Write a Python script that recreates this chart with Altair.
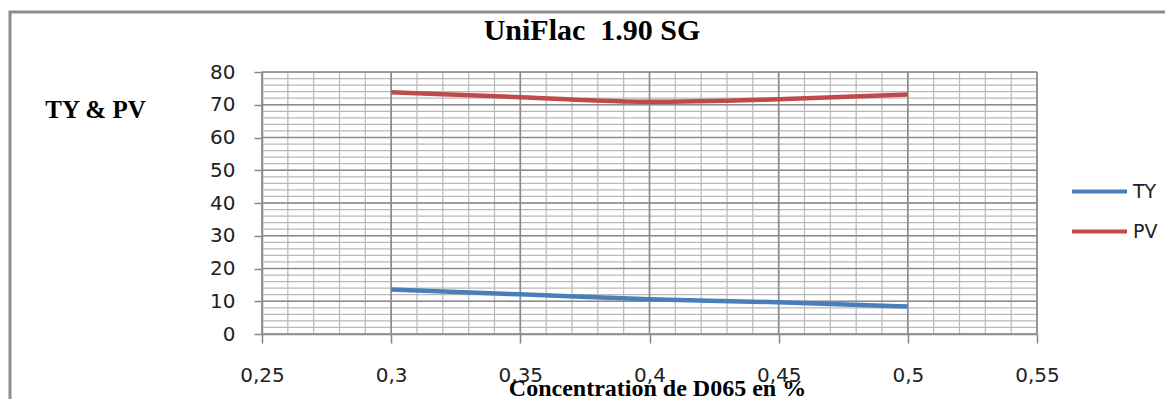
import altair as alt
import pandas as pd

# ---- data ----
conc = [0.30, 0.35, 0.40, 0.45, 0.50]
ty = [13.6, 12.1, 10.6, 9.7, 8.4]
pv = [73.8, 72.3, 70.9, 71.7, 73.1]
series_names = ["TY", "PV"]
series_colors = ["#4a7ebb", "#be4b48"]
chart_title = ["UniFlac\u00a0 1.90 SG"]

x_ticks = [0.25, 0.30, 0.35, 0.40, 0.45, 0.50, 0.55]
y_ticks = [0, 10, 20, 30, 40, 50, 60, 70, 80]
x_minor = [round(0.25 + 0.01 * i, 2) for i in range(31)]
y_minor = list(range(0, 81, 2))

W, H = 775, 262
PAD_L, PAD_T = 254, 64

df = pd.DataFrame(
    {"x": conc * 2, "value": ty + pv, "series": ["TY"] * len(conc) + ["PV"] * len(conc)}
)

xscale = alt.Scale(domain=[0.25, 0.55], nice=False, zero=False)
yscale = alt.Scale(domain=[0, 80], nice=False)

x_axis = alt.Axis(
    values=x_ticks,
    labelExpr="replace(toString(datum.value), '.', ',')",
    title="Concentration de D065 en %",
    titleFont="Liberation Serif",
    titleFontWeight="bold",
    titleFontSize=24,
    titleColor="#000000",
    titleX=395,
    titleY=61,
    titleBaseline="alphabetic",
    titleAlign="center",
    labelFont="DejaVu Sans",
    labelFontSize=20,
    labelColor="#222222",
    labelPadding=22,
    tickSize=9,
    tickColor="#868686",
    tickWidth=1.5,
    domainColor="#868686",
    domainWidth=1.6,
    grid=False,
    labelFlush=False,
    labelOverlap=False,
)
y_axis = alt.Axis(
    values=y_ticks,
    title="TY & PV",
    titleFont="Liberation Serif",
    titleFontWeight="bold",
    titleFontSize=25,
    titleColor="#000000",
    titleAngle=0,
    titleAlign="center",
    titleBaseline="alphabetic",
    titleX=-167,
    titleY=45,
    labelFont="DejaVu Sans",
    labelFontSize=20,
    labelColor="#222222",
    labelPadding=19,
    tickSize=8,
    tickColor="#868686",
    tickWidth=1.5,
    domainColor="#868686",
    domainWidth=1.6,
    grid=False,
    labelOverlap=False,
)

border = (
    alt.Chart(pd.DataFrame({"a": [0]}))
    .mark_rect(filled=False, stroke="#8c8c8c", strokeWidth=3)
    .encode(
        x=alt.value(-PAD_L + 2),
        x2=alt.value(W + 400),
        y=alt.value(-PAD_T + 4),
        y2=alt.value(H + 300),
    )
)

title_text = (
    alt.Chart(pd.DataFrame({"t": chart_title}))
    .mark_text(
        font="Liberation Serif",
        fontSize=30,
        fontWeight="bold",
        color="#000000",
        align="center",
        baseline="alphabetic",
    )
    .encode(text="t:N", x=alt.value(330), y=alt.value(-32))
)

vminor = (
    alt.Chart(pd.DataFrame({"x": x_minor}))
    .mark_rule(color="#b8b8b8", strokeWidth=1.2)
    .encode(x=alt.X("x:Q", scale=xscale, axis=x_axis))
)
hminor = (
    alt.Chart(pd.DataFrame({"value": y_minor}))
    .mark_rule(color="#b8b8b8", strokeWidth=1.2)
    .encode(y=alt.Y("value:Q", scale=yscale, axis=y_axis))
)
vmajor = (
    alt.Chart(pd.DataFrame({"x": x_ticks}))
    .mark_rule(color="#8a8a8a", strokeWidth=1.6)
    .encode(x=alt.X("x:Q", scale=xscale, axis=x_axis))
)
hmajor = (
    alt.Chart(pd.DataFrame({"value": y_ticks}))
    .mark_rule(color="#8a8a8a", strokeWidth=1.6)
    .encode(y=alt.Y("value:Q", scale=yscale, axis=y_axis))
)

lines = (
    alt.Chart(df)
    .mark_line(strokeWidth=4.5, interpolate="monotone")
    .encode(
        x=alt.X("x:Q", scale=xscale, axis=x_axis),
        y=alt.Y("value:Q", scale=yscale, axis=y_axis),
        color=alt.Color(
            "series:N",
            scale=alt.Scale(domain=series_names, range=series_colors),
            sort=series_names,
            legend=alt.Legend(
                title=None,
                orient="none",
                legendX=808,
                legendY=90,
                symbolType="stroke",
                symbolSize=3025,
                symbolStrokeWidth=4,
                labelFont="DejaVu Sans",
                labelFontSize=19,
                labelColor="#222222",
                labelOffset=4,
                rowPadding=-1,
                padding=0,
            ),
        ),
    )
)

chart = (
    alt.layer(border, title_text, vminor, hminor, vmajor, hmajor, lines)
    .properties(
        width=W,
        height=H,
        autosize=alt.AutoSizeParams(type="none"),
        padding={"left": PAD_L, "top": PAD_T, "right": 128, "bottom": 65},
    )
    .configure_view(stroke=None)
    .configure(background="#ffffff")
)

chart.save("out.html", embed_options={"renderer": "svg", "actions": False})
